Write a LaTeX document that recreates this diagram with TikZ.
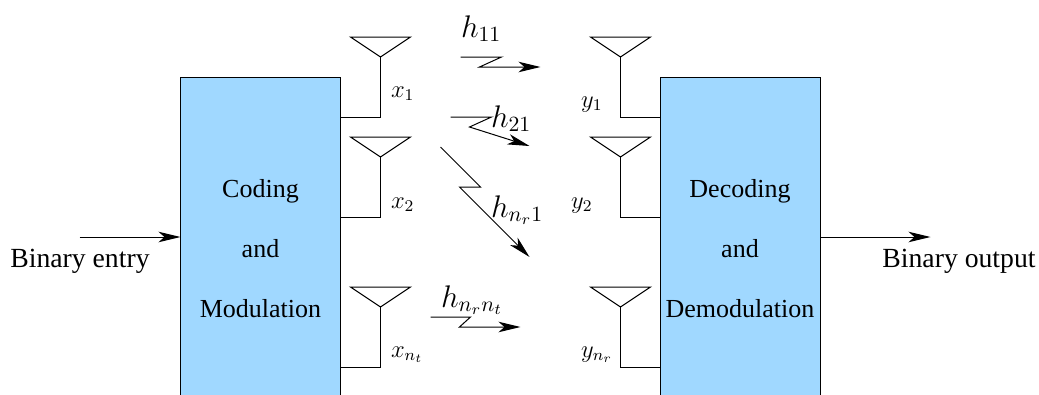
\documentclass[tikz,border=0pt]{standalone}
\usepackage{fontspec}
\setmainfont{Liberation Serif}
\usetikzlibrary{arrows.meta}
\definecolor{boxblue}{HTML}{A0D8FF}
\newcommand{\sigmath}[1]{\scalebox{2.05}{\fontsize{12}{14}\selectfont$#1$}}
\newcommand{\chanmath}[1]{\scalebox{2.17}{\fontsize{14.4}{16}\selectfont$#1$}}
\tikzset{
  x=1pt,y=1pt,
  blockbox/.style={draw=black,fill=boxblue,minimum width=160pt,minimum height=360pt,inner sep=0pt,outer sep=0pt,anchor=north west},
  blocktext/.style={font=\fontsize{26}{60}\selectfont,align=center,inner sep=0pt},
  iolabel/.style={font=\fontsize{27.7}{30}\selectfont,inner sep=0pt,anchor=base},
  siglabel/.style={inner sep=0pt,anchor=base west},
  chanlabel/.style={inner sep=0pt,anchor=base west},
  tip/.style={-{Stealth[length=22pt,width=10.5pt,inset=6pt]}},
  antenna/.style={draw=black,line join=miter}
}
\begin{document}
\begin{tikzpicture}[line width=1pt]
\useasboundingbox (0.5,0) rectangle (1039.5,-394);
\clip (0.5,0) rectangle (1039.5,-394);
% blocks
\node[blockbox] (tx) at (181,-77) {};
\node[blockbox] (rx) at (661,-77) {};
\node[blocktext] (txt) at (261,-249) {Coding\\and\\Modulation};
\node[blocktext] (rxt) at (740.5,-249) {Decoding\\and\\Demodulation};
% antenna apexes and feed corners
\foreach \n/\ax/\cx/\py/\fy in {
  a1/381/341/-57/-117,
  a2/381/341/-157/-217,
  a3/381/341/-307/-367,
  b1/621/661/-57/-117,
  b2/621/661/-157/-217,
  b3/621/661/-307/-367}{
  \coordinate (\n) at (\ax,\py);
  \coordinate (\n l) at (\ax-30,\py+20);
  \coordinate (\n r) at (\ax+30,\py+20);
  \coordinate (\n c) at (\ax,\fy);
  \coordinate (\n f) at (\cx,\fy);
  \draw[antenna] (\n l) -- (\n r) -- (\n) -- cycle;
  \draw (\n) -- (\n c) -- (\n f);
}
% input and output
\coordinate (in) at (80,-237);
\coordinate (out) at (931,-237);
\draw[tip] (in) -- (tx.west |- in);
\draw[tip] (rx.east |- out) -- (out);
\node[iolabel] (inl) at (80.5,-267.5) {Binary entry};
\node[iolabel] (outl) at (959.5,-267.5) {Binary output};
% channel zigzags
\coordinate (p1a) at (461,-57); \coordinate (p1b) at (502,-57); \coordinate (p1c) at (480,-67); \coordinate (p1d) at (541,-67);
\coordinate (p2a) at (451,-117); \coordinate (p2b) at (492,-117); \coordinate (p2c) at (470,-127); \coordinate (p2d) at (530,-146);
\coordinate (p3a) at (441,-147); \coordinate (p3b) at (481,-187); \coordinate (p3c) at (460,-187); \coordinate (p3d) at (530,-257);
\coordinate (p4a) at (431,-317); \coordinate (p4b) at (471,-317); \coordinate (p4c) at (460,-327); \coordinate (p4d) at (521,-327);
\draw[tip] (p1a) -- (p1b) -- (p1c) -- (p1d);
\draw[tip] (p2a) -- (p2b) -- (p2c) -- (p2d);
\draw[tip] (p3a) -- (p3b) -- (p3c) -- (p3d);
\draw[tip] (p4a) -- (p4b) -- (p4c) -- (p4d);
% labels
\node[chanlabel] (h1) at (461,-37) {\chanmath{h_{11}}};
\node[chanlabel] (h2) at (491,-127) {\chanmath{h_{21}}};
\node[chanlabel] (h3) at (491,-217) {\chanmath{h_{n_r1}}};
\node[chanlabel] (h4) at (441,-307) {\chanmath{h_{n_rn_t}}};
\node[siglabel] (x1) at (391,-97) {\sigmath{x_1}};
\node[siglabel] (x2) at (391,-208) {\sigmath{x_2}};
\node[siglabel] (x3) at (391,-357) {\sigmath{x_{n_t}}};
\node[siglabel] (y1) at (581,-107) {\sigmath{y_1}};
\node[siglabel] (y2) at (571,-208) {\sigmath{y_2}};
\node[siglabel] (y3) at (581,-357) {\sigmath{y_{n_r}}};
\end{tikzpicture}
\end{document}
